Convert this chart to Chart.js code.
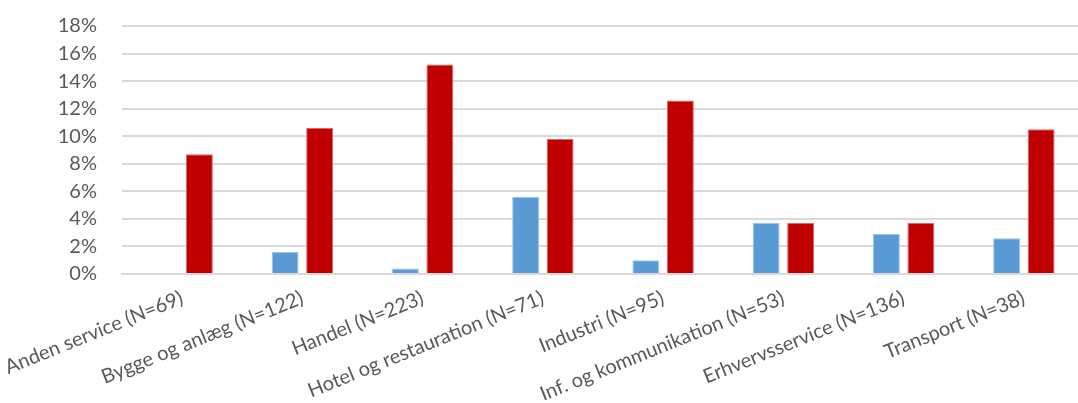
<!DOCTYPE html>
<html>
<head>
<meta charset="utf-8">
<script src="https://cdn.jsdelivr.net/npm/chart.js@4/dist/chart.umd.min.js"></script>
<style>
  html, body { margin: 0; padding: 0; background: #fff; overflow: hidden; }
  #wrap { width: 1086px; height: 403px; }
</style>
</head>
<body>
<div id="wrap"><canvas id="myChart" width="1086" height="403"></canvas></div>
<script>
// sectors along the x axis
var categories = [
    'Anden service (N=69)',
    'Bygge og anlæg (N=122)',
    'Handel (N=223)',
    'Hotel og restauration (N=71)',
    'Industri (N=95)',
    'Inf. og kommunikation (N=53)',
    'Erhvervsservice (N=136)',
    'Transport (N=38)'
];

// percentages
var blueValues = [0, 1.6, 0.4, 5.6, 1.0, 3.7, 2.9, 2.6];
var redValues  = [8.7, 10.6, 15.2, 9.8, 12.6, 3.7, 3.7, 10.5];

// y axis ticks
var yTicks = [0, 2, 4, 6, 8, 10, 12, 14, 16, 18];

var textColor = '#595959';
var fontFamily = 'Lato, "Open Sans", sans-serif';

var ctx = document.getElementById('myChart');

// eslint-disable-next-line no-unused-vars
var myChart = new Chart(ctx, {
    type: 'bar',
    data: {
        labels: categories,
        datasets: [{
            label: 'Serie 1',
            data: blueValues,
            backgroundColor: '#5B9BD5',
            borderColor: '#9DC3E6',
            borderWidth: 1,
            barPercentage: 0.78,
            categoryPercentage: 0.574
        }, {
            label: 'Serie 2',
            data: redValues,
            backgroundColor: '#C00000',
            borderColor: '#E06666',
            borderWidth: 1,
            barPercentage: 0.78,
            categoryPercentage: 0.574
        }]
    },
    options: {
        responsive: false,
        animation: false,
        layout: { padding: { top: 26, right: 2, left: 0, bottom: 0 } },
        plugins: {
            legend: { display: false },
            tooltip: { enabled: false }
        },
        scales: {
            x: {
                grid: { display: false, drawTicks: false },
                border: { display: true, color: '#D9D9D9', width: 2 },
                ticks: {
                    color: textColor,
                    font: { family: fontFamily, size: 20 },
                    minRotation: 22,
                    maxRotation: 22,
                    autoSkip: false,
                    padding: 12
                },
                afterFit: function(scale){
                    scale.height = 129;
                    scale.paddingLeft = 0;
                    scale.paddingRight = 0;
                }
            },
            y: {
                min: 0,
                max: 18,
                afterBuildTicks: function(scale){
                    scale.ticks = yTicks.map(function(v){ return { value: v }; });
                },
                grid: { color: '#D9D9D9', lineWidth: 2, drawTicks: false },
                border: { display: false },
                ticks: {
                    color: textColor,
                    font: { family: fontFamily, size: 20 },
                    padding: 25,
                    autoSkip: false,
                    callback: function(v){ return v + '%'; }
                },
                afterFit: function(scale){
                    scale.width = 122;
                    scale.paddingTop = 0;
                    scale.paddingBottom = 0;
                }
            }
        }
    }
});
</script>
</body>
</html>
